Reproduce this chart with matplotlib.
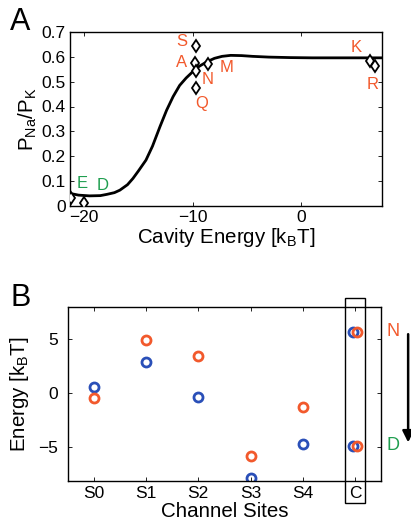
import numpy as np
import matplotlib
matplotlib.use("Agg")
import matplotlib.pyplot as plt
from matplotlib.patches import Rectangle

plt.rcParams["font.family"] = ["Liberation Sans", "DejaVu Sans"]
plt.rcParams["mathtext.default"] = "regular"

RED = "#f2592c"
GREEN = "#1f9e4f"
BLUE = "#2a4fb8"

########## panel A data ##########
curve_x = [-21.3, -20.5, -19.5, -18.5, -17.9, -17.2, -16.7, -16.0, -15.5, -15.0,
           -14.3, -13.7, -13.0, -12.4, -11.8, -11.2, -10.6, -10.0, -9.4, -8.7,
           -8.0, -7.3, -6.5, -5.5, -4.5, -3.0, -1.0, 1.0, 3.0, 5.0, 7.4]
curve_y = [0.050, 0.043, 0.040, 0.041, 0.046, 0.053, 0.063, 0.085, 0.110, 0.140,
           0.184, 0.240, 0.320, 0.385, 0.440, 0.485, 0.515, 0.540, 0.562, 0.580,
           0.594, 0.602, 0.606, 0.605, 0.602, 0.599, 0.597, 0.596, 0.596, 0.596, 0.596]

mut_names = ["E", "D", "S", "A", "N", "Q", "M", "K", "R"]
mut_x = [-21.2, -20.0, -9.7, -9.75, -9.7, -9.7, -8.6, 6.3, 6.8]
mut_y = [0.033, 0.012, 0.644, 0.577, 0.545, 0.474, 0.572, 0.584, 0.564]
lab_x = [-20.15, -18.25, -11.04, -11.04, -8.59, -9.2, -6.9, 5.06, 6.59]
lab_y = [0.090, 0.081, 0.662, 0.577, 0.507, 0.413, 0.557, 0.637, 0.490]
lab_col = [GREEN, GREEN, RED, RED, RED, RED, RED, RED, RED]

########## panel B data ##########
sites = ["S0", "S1", "S2", "S3", "S4", "C"]
blue_E = [0.61, 2.89, -0.31, -7.86, -4.69]
red_E = [-0.47, 4.90, 3.44, -5.84, -1.30]
cav_E = [5.71, -4.84]   # N (top), D (bottom)

fig = plt.figure(figsize=(4.11, 5.25), dpi=100)

## panel A
ax = fig.add_axes([0.170, 0.608, 0.759, 0.331])
ax.plot(curve_x, curve_y, color="black", lw=2.0, zorder=2)
ax.plot(mut_x, mut_y, linestyle="none", marker="d", ms=6.5, mfc="white",
        mec="black", mew=1.3, zorder=3)
for n, x, y, c in zip(mut_names, lab_x, lab_y, lab_col):
    ax.text(x, y, n, color=c, fontsize=12, ha="center", va="center")
ax.set_xlim(-21.3, 7.4)
ax.set_ylim(0, 0.7)
ax.set_xticks([-20, -10, 0])
ax.set_yticks(np.arange(0, 0.71, 0.1))
ax.set_yticklabels(["0", "0.1", "0.2", "0.3", "0.4", "0.5", "0.6", "0.7"])
ax.tick_params(direction="in", top=True, right=True, labelsize=12.5, length=3,
               width=0.6, pad=3)
ax.set_xlabel("Cavity Energy [k$_B$T]", fontsize=14.8, labelpad=1)
ax.set_ylabel("P$_{Na}$/P$_K$", fontsize=14.8, labelpad=2)
for s in ax.spines.values():
    s.set_linewidth(1.0)
fig.text(0.025, 0.958, "A", fontsize=22, ha="left", va="center")

## panel B
bx = fig.add_axes([0.165, 0.0844, 0.762, 0.331])
pos = np.arange(len(sites))
bx.plot(pos[:5], blue_E, linestyle="none", marker="o", ms=6.5, mfc="none",
        mec=BLUE, mew=2.0)
bx.plot([4.96, 4.96], cav_E, linestyle="none", marker="o", ms=6.5, mfc="none",
        mec=BLUE, mew=2.0)
bx.plot(pos[:5], red_E, linestyle="none", marker="o", ms=6.5, mfc="none",
        mec=RED, mew=2.0)
bx.plot([5.04, 5.04], cav_E, linestyle="none", marker="o", ms=6.5, mfc="none",
        mec=RED, mew=2.0)
bx.add_patch(Rectangle((4.81, -10.15), 0.38, 19.0, fill=False, ec="black",
                       lw=1.0, clip_on=False))
bx.text(5.73, cav_E[0], "N", color=RED, fontsize=13, ha="center", va="center")
bx.text(5.73, cav_E[1], "D", color=GREEN, fontsize=13, ha="center", va="center")
bx.annotate("", xy=(6.02, -4.81), xytext=(6.02, 5.73),
            arrowprops=dict(arrowstyle="-|>", color="black", lw=1.8,
                            mutation_scale=17),
            annotation_clip=False)
bx.set_xlim(-0.5, 5.5)
bx.set_ylim(-8.1, 8.0)
bx.set_xticks(pos)
bx.set_xticklabels(sites)
bx.set_yticks([-5, 0, 5])
bx.tick_params(direction="in", top=True, right=True, labelsize=12.5, length=3,
               width=0.6)
bx.tick_params(axis="y", pad=7)
bx.set_xlabel("Channel Sites", fontsize=14.8, labelpad=1)
bx.set_ylabel("Energy [k$_B$T]", fontsize=14.8, labelpad=5)
for s in bx.spines.values():
    s.set_linewidth(1.0)
fig.text(0.025, 0.432, "B", fontsize=22, ha="left", va="center")

plt.savefig("out.png", dpi=100)
